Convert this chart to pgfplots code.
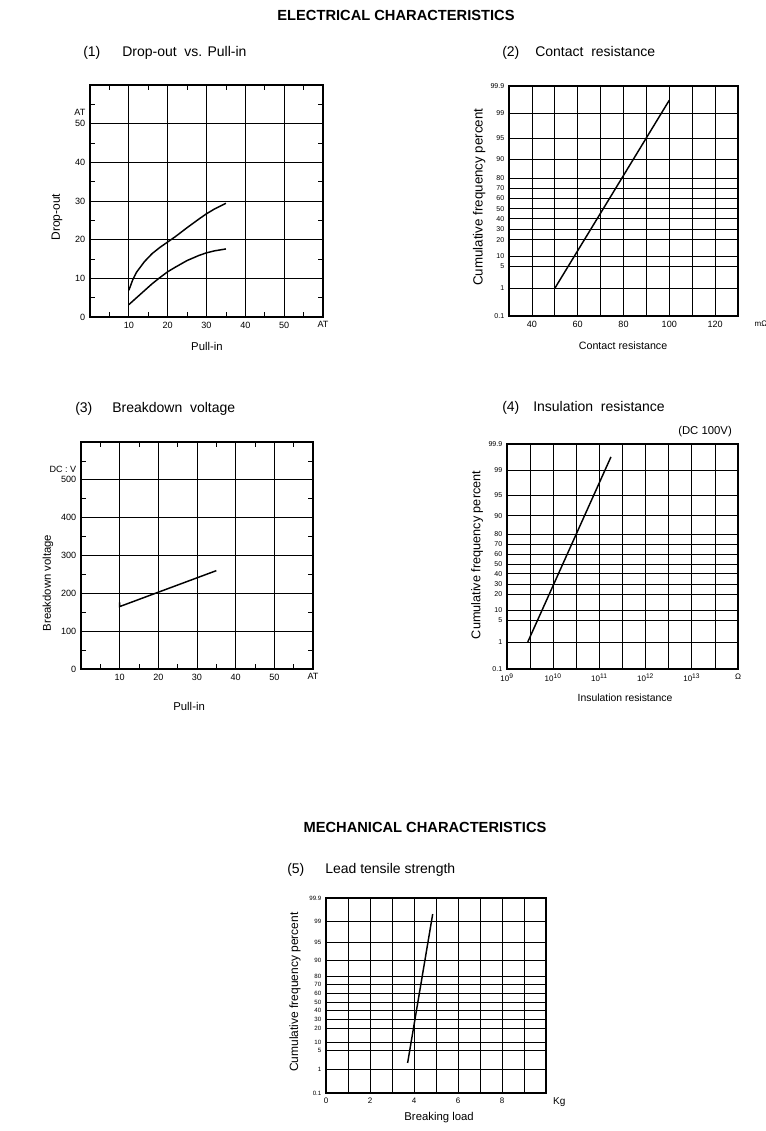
\documentclass[border=0pt]{standalone}
\usepackage{fontspec}
\setmainfont{Liberation Sans}
\usepackage{pgfplots}
\pgfplotsset{compat=1.18}

\pgfplotsset{
  rly/.style={
    scale only axis, clip=false,
    axis line style={line width=0.8pt},
    major grid style={black, line width=0.55pt},
    minor grid style={black, line width=0.55pt},
    /pgf/number format/assume math mode=true,
    tick style={black, line width=0.55pt},
    major tick length=0pt,
    minor tick length=3.75pt,
    tick align=inside,
  },
  prob/.style={
    ymin=-3.18, ymax=3.63,
    ytick={-3.18,-2.36,-1.70,-1.40,-0.92,-0.61,-0.30,0,0.30,0.60,0.91,1.46,2.08,2.83,3.63},
    yticklabels={0.1,1,5,10,20,30,40,50,60,70,80,90,95,99,99.9},
    grid=both,
    minor tick length=0pt,
  },
  curve/.style={black, line width=1.1pt, mark=none},
}

\begin{document}
\begin{tikzpicture}
\useasboundingbox (0,0) rectangle (573.75pt,-848.25pt);

% ---- headings ----
\node[anchor=base, inner sep=0pt, font=\fontsize{11}{13}\selectfont\bfseries] at (297pt,-15.75pt) {ELECTRICAL CHARACTERISTICS};
\node[anchor=base, inner sep=0pt, font=\fontsize{11}{13}\selectfont\bfseries] at (318.75pt,-624pt) {MECHANICAL CHARACTERISTICS};

\node[anchor=base west, inner sep=0pt, font=\fontsize{10.5}{12}\selectfont] at (62.25pt,-42.75pt) {(1)};
\node[anchor=base west, inner sep=0pt, font=\fontsize{10.5}{12}\selectfont] at (91.5pt,-42.75pt) {Drop-out\ \ vs. Pull-in};
\node[anchor=base west, inner sep=0pt, font=\fontsize{10.5}{12}\selectfont] at (376.5pt,-42.75pt) {(2)};
\node[anchor=base west, inner sep=0pt, font=\fontsize{10.5}{12}\selectfont] at (401.25pt,-42.75pt) {Contact\ \ resistance};
\node[anchor=base west, inner sep=0pt, font=\fontsize{10.5}{12}\selectfont] at (56.25pt,-309pt) {(3)};
\node[anchor=base west, inner sep=0pt, font=\fontsize{10.5}{12}\selectfont] at (84pt,-309pt) {Breakdown\ \ voltage};
\node[anchor=base west, inner sep=0pt, font=\fontsize{10.5}{12}\selectfont] at (376.5pt,-308.25pt) {(4)};
\node[anchor=base west, inner sep=0pt, font=\fontsize{10.5}{12}\selectfont] at (399.75pt,-308.25pt) {Insulation\ \ resistance};
\node[anchor=base west, inner sep=0pt, font=\fontsize{8.5}{10}\selectfont] at (508.5pt,-325.5pt) {(DC 100V)};
\node[anchor=base west, inner sep=0pt, font=\fontsize{10.5}{12}\selectfont] at (215.25pt,-654.75pt) {(5)};
\node[anchor=base west, inner sep=0pt, font=\fontsize{10.5}{12}\selectfont] at (243.75pt,-654.75pt) {Lead tensile strength};

% ---- (1) Drop-out vs Pull-in ----
\begin{axis}[rly,
  at={(67.5pt,-237.75pt)}, anchor=south west,
  width=174.75pt, height=174pt,
  xmin=0, xmax=60, ymin=0, ymax=60,
  xtick={10,20,30,40,50,60}, xticklabels={10,20,30,40,50,AT},
  ytick={0,10,20,30,40,50},
  minor xtick={5,15,25,35,45,55}, minor ytick={5,15,25,35,45,55},
  extra y ticks={53}, extra y tick labels={AT},
  extra y tick style={grid=none, major tick length=0pt},
  grid=major,
  tick label style={font=\fontsize{6.8}{7}\selectfont},
  xlabel={Pull-in}, ylabel={Drop-out},
  xlabel style={at={(rel axis cs:0.502,-0.125)}, anchor=center, font=\fontsize{8.5}{10}\selectfont},
  ylabel style={at={(rel axis cs:-0.142,0.43)}, anchor=center, font=\fontsize{9}{10}\selectfont},
]
\addplot[curve] coordinates {(10,6.9) (11,9.6) (12,11.6) (14,14.3) (16,16.4) (18,18.0) (20,19.4) (22,20.8) (25,23.1) (28,25.3) (30,26.7) (32,27.9) (35,29.4)};
\addplot[curve] coordinates {(10,3.2) (12,5.0) (14,6.8) (16,8.6) (18,10.2) (20,11.7) (22,12.9) (25,14.6) (28,15.9) (30,16.6) (32,17.1) (35,17.6)};
\end{axis}

% ---- (2) Contact resistance ----
\begin{axis}[rly, prob,
  at={(381.75pt,-237pt)}, anchor=south west,
  width=171.75pt, height=172.5pt,
  xmin=30, xmax=130,
  xtick={40,60,80,100,120}, minor xtick={30,50,70,90,110,130},
  xticklabel style={font=\fontsize{6.8}{7}\selectfont},
  yticklabel style={font=\fontsize{5.3}{6}\selectfont},
  xlabel={Contact resistance}, ylabel={Cumulative frequency percent},
  xlabel style={at={(rel axis cs:0.498,-0.13)}, anchor=center, font=\fontsize{8}{10}\selectfont},
  ylabel style={at={(rel axis cs:-0.13,0.517)}, anchor=center, font=\fontsize{10}{11}\selectfont},
]
\addplot[curve] coordinates {(50,-2.36) (100,3.21)};
\node[anchor=north, font=\fontsize{6}{7}\selectfont] at (axis cs:140,-3.18) {mΩ};
\end{axis}

% ---- (3) Breakdown voltage ----
\begin{axis}[rly,
  at={(60.75pt,-501.75pt)}, anchor=south west,
  width=174pt, height=170.25pt,
  xmin=0, xmax=60, ymin=0, ymax=600,
  xtick={10,20,30,40,50,60}, xticklabels={10,20,30,40,50,AT},
  ytick={0,100,200,300,400,500},
  minor xtick={5,15,25,35,45,55}, minor ytick={50,150,250,350,450,550},
  extra y ticks={527}, extra y tick labels={DC : V},
  extra y tick style={grid=none, major tick length=0pt},
  grid=major,
  tick label style={font=\fontsize{6.8}{7}\selectfont},
  xlabel={Pull-in}, ylabel={Breakdown voltage},
  xlabel style={at={(rel axis cs:0.466,-0.163)}, anchor=center, font=\fontsize{8.5}{10}\selectfont},
  ylabel style={at={(rel axis cs:-0.142,0.379)}, anchor=center, font=\fontsize{8.5}{10}\selectfont},
]
\addplot[curve] coordinates {(10,176) (10,165) (20,203) (35,260)};
\end{axis}

% ---- (4) Insulation resistance ----
\begin{axis}[rly, prob,
  at={(380.25pt,-501.75pt)}, anchor=south west,
  width=173.25pt, height=168.75pt,
  xmin=9, xmax=14,
  xtick={9,10,11,12,13,14},
  xticklabels={10\textsuperscript{9},10\textsuperscript{10},10\textsuperscript{11},10\textsuperscript{12},10\textsuperscript{13},Ω},
  minor xtick={9.5,10.5,11.5,12.5,13.5},
  xticklabel style={font=\fontsize{6}{7}\selectfont},
  yticklabel style={font=\fontsize{5.3}{6}\selectfont},
  xlabel={Insulation resistance}, ylabel={Cumulative frequency percent},
  xlabel style={at={(rel axis cs:0.511,-0.129)}, anchor=center, font=\fontsize{7.8}{9}\selectfont},
  ylabel style={at={(rel axis cs:-0.13,0.507)}, anchor=center, font=\fontsize{9.5}{11}\selectfont},
]
\addplot[curve] coordinates {(9.45,-2.36) (11.25,3.24)};
\end{axis}

% ---- (5) Lead tensile strength ----
\begin{axis}[rly, prob,
  at={(244.5pt,-819.75pt)}, anchor=south west,
  width=165pt, height=146.25pt,
  xmin=0, xmax=10,
  xtick={0,2,4,6,8}, minor xtick={1,3,5,7,9},
  xticklabel style={font=\fontsize{6}{7}\selectfont},
  yticklabel style={font=\fontsize{4.6}{5}\selectfont},
  xlabel={Breaking load}, ylabel={Cumulative frequency percent},
  xlabel style={at={(rel axis cs:0.514,-0.128)}, anchor=center, font=\fontsize{8.5}{10}\selectfont},
  ylabel style={at={(rel axis cs:-0.141,0.518)}, anchor=center, font=\fontsize{9}{10}\selectfont},
]
\addplot[curve] coordinates {(3.71,-2.13) (4.85,3.07)};
\node[anchor=north, font=\fontsize{7.5}{8}\selectfont] at (axis cs:10.6,-3.18) {Kg};
\end{axis}
\end{tikzpicture}
\end{document}
